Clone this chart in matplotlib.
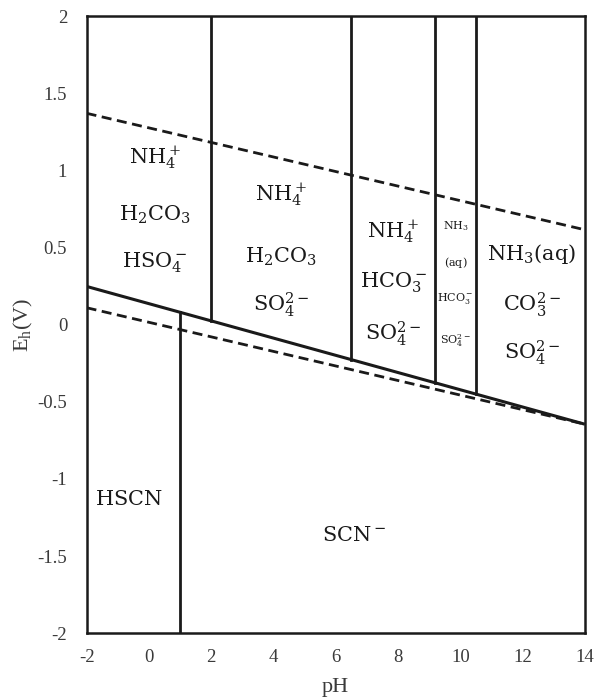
import numpy as np
import matplotlib
matplotlib.use("Agg")
import matplotlib.pyplot as plt

# Eh-pH diagram data (endpoints at pH -2 and pH 14)
ph_ends = [-2.0, 14.0]
water_upper = [1.37, 0.615]      # O2/H2O stability limit (dashed)
water_lower = [0.11, -0.645]     # H2O/H2 stability limit (dashed)
scn_boundary = [0.248, -0.645]   # SCN- oxidation boundary (solid)

hscn_scn_ph = 1.0                       # HSCN / SCN- boundary
upper_vertical_ph = [2.0, 6.5, 9.2, 10.5]  # acid-base boundaries above SCN-

x_ticks = [-2, 0, 2, 4, 6, 8, 10, 12, 14]
y_ticks = [-2, -1.5, -1, -0.5, 0, 0.5, 1, 1.5, 2]
y_ticklabels = ["-2", "-1.5", "-1", "-0.5", "0", "0.5", "1", "1.5", "2"]

# species labels: (pH, Eh, text, size)
region_labels = [
    (0.2, 1.08, r"$\mathrm{NH_4^+}$", 15),
    (0.2, 0.71, r"$\mathrm{H_2CO_3}$", 15),
    (0.2, 0.40, r"$\mathrm{HSO_4^-}$", 15),
    (4.25, 0.84, r"$\mathrm{NH_4^+}$", 15),
    (4.25, 0.44, r"$\mathrm{H_2CO_3}$", 15),
    (4.25, 0.13, r"$\mathrm{SO_4^{2-}}$", 15),
    (7.85, 0.60, r"$\mathrm{NH_4^+}$", 15),
    (7.85, 0.27, r"$\mathrm{HCO_3^-}$", 15),
    (7.85, -0.06, r"$\mathrm{SO_4^{2-}}$", 15),
    (9.85, 0.64, r"$\mathrm{NH_3}$", 8),
    (9.85, 0.40, r"$\mathrm{(aq)}$", 8),
    (9.85, 0.17, r"$\mathrm{HCO_3^-}$", 8),
    (9.85, -0.10, r"$\mathrm{SO_4^{2-}}$", 8),
    (12.3, 0.46, r"$\mathrm{NH_3(aq)}$", 15),
    (12.3, 0.13, r"$\mathrm{CO_3^{2-}}$", 15),
    (12.3, -0.18, r"$\mathrm{SO_4^{2-}}$", 15),
    (-0.65, -1.13, r"$\mathrm{HSCN}$", 15),
    (6.6, -1.36, r"$\mathrm{SCN^-}$", 15),
]

plt.rcParams["mathtext.fontset"] = "dejavuserif"
serif = ["Liberation Serif", "DejaVu Serif"]

fig = plt.figure(figsize=(5.95, 6.99), dpi=100)
ax = fig.add_axes([0.1455, 0.094, 0.8375, 0.883])

ink = "#1a1a1a"
grey = "#3a3a3a"
dash = (0, (3.6, 2.0))

ax.plot(ph_ends, water_upper, color=ink, lw=2.0, linestyle=dash)
ax.plot(ph_ends, water_lower, color=ink, lw=2.0, linestyle=dash)
ax.plot(ph_ends, scn_boundary, color=ink, lw=2.2, solid_capstyle="butt")

# HSCN/SCN- boundary runs from the bottom up to the SCN- oxidation line
top_hscn = np.interp(hscn_scn_ph, ph_ends, scn_boundary)
ax.plot([hscn_scn_ph, hscn_scn_ph], [y_ticks[0], top_hscn], color=ink, lw=2.0)

# acid-base boundaries run from the SCN- line up to the top of the diagram
for ph in upper_vertical_ph:
    base = np.interp(ph, ph_ends, scn_boundary)
    ax.plot([ph, ph], [base, y_ticks[-1]], color=ink, lw=2.0)

for x, y, txt, size in region_labels:
    ax.text(x, y, txt, ha="center", va="center", fontsize=size, color=ink)

ax.set_xlim(ph_ends)
ax.set_ylim(y_ticks[0], y_ticks[-1])
ax.set_xticks(x_ticks)
ax.set_xticklabels([str(t) for t in x_ticks], fontfamily=serif, fontsize=13.5, color=grey)
ax.set_yticks(y_ticks)
ax.set_yticklabels(y_ticklabels, fontfamily=serif, fontsize=13.5, color=grey)
ax.tick_params(axis="y", length=0, pad=14)
ax.tick_params(axis="x", length=0, pad=11)

for s in ax.spines.values():
    s.set_color(ink)
    s.set_linewidth(1.8)

ax.set_xlabel("pH", fontfamily=serif, fontsize=16, color=grey, labelpad=9)
ax.set_ylabel(r"E$_\mathregular{h}$(V)", fontfamily=serif, fontsize=16, color=grey, labelpad=2)

fig.savefig("out.png", dpi=100, facecolor="white")
